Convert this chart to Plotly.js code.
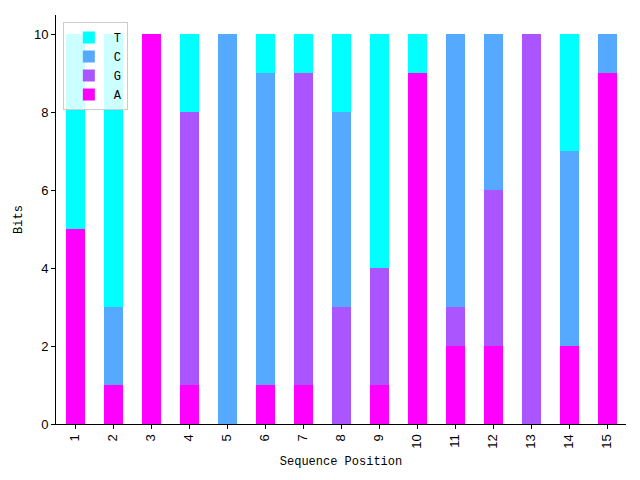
<!DOCTYPE html>
<html>
<head>
<meta charset="utf-8">
<script src="https://cdn.plot.ly/plotly-3.0.1.min.js"></script>
<style>html,body{margin:0;padding:0;background:#fff;}#chart{width:640px;height:480px;}</style>
</head>
<body>
<div id="chart"></div>
<script>
const positions = ["1","2","3","4","5","6","7","8","9","10","11","12","13","14","15"];
const valuesA = [5, 1, 10, 1, 0, 1, 1, 0, 1, 9, 2, 2, 0, 2, 9];
const valuesG = [0, 0, 0, 7, 0, 0, 8, 3, 3, 0, 1, 4, 10, 0, 0];
const valuesC = [0, 2, 0, 0, 10, 8, 0, 5, 0, 0, 7, 4, 0, 5, 1];
const valuesT = [5, 7, 0, 2, 0, 1, 1, 2, 6, 1, 0, 0, 0, 3, 0];
const seriesNames = ["A", "G", "C", "T"];
const seriesColors = ["#FF00FF", "#AA55FF", "#55AAFF", "#00FFFF"];
const seriesValues = [valuesA, valuesG, valuesC, valuesT];

const traces = seriesNames.map((n, i) => ({
  type: "bar",
  name: n,
  x: positions,
  y: seriesValues[i],
  marker: {color: seriesColors[i], line: {width: 0}},
  hoverinfo: "x+y+name"
}));

const tickFont = {family: "Liberation Sans, Arial, sans-serif", size: 13, color: "#000"};
const labelFont = {family: "Liberation Mono, monospace", size: 12, color: "#000"};

const layout = {
  width: 640, height: 480,
  margin: {l: 56, r: 14, t: 15, b: 56, pad: 0},
  paper_bgcolor: "#fff", plot_bgcolor: "#fff",
  barmode: "stack",
  bargap: 0.5,
  showlegend: true,
  legend: {
    x: 0.012, y: 0.983, xanchor: "left", yanchor: "top",
    traceorder: "reversed",
    bgcolor: "rgba(255,255,255,0.8)",
    bordercolor: "#cccccc", borderwidth: 1,
    font: labelFont,
    itemwidth: 40
  },
  xaxis: {
    type: "category",
    range: [-0.5, 14.5],
    showgrid: false, zeroline: false,
    showline: true, linecolor: "#000", linewidth: 1,
    ticks: "outside", ticklen: 4, tickcolor: "#000",
    tickangle: -90,
    tickfont: tickFont,
    title: {text: "Sequence Position", font: labelFont, standoff: 8}
  },
  yaxis: {
    range: [0, 10.5],
    tickvals: [0, 2, 4, 6, 8, 10],
    showgrid: false, zeroline: false,
    showline: true, linecolor: "#000", linewidth: 1,
    ticks: "outside", ticklen: 4, tickcolor: "#000",
    tickfont: tickFont,
    title: {text: "Bits", font: labelFont, standoff: 8}
  }
};

Plotly.newPlot("chart", traces, layout, {displayModeBar: false, staticPlot: true});
</script>
</body>
</html>
